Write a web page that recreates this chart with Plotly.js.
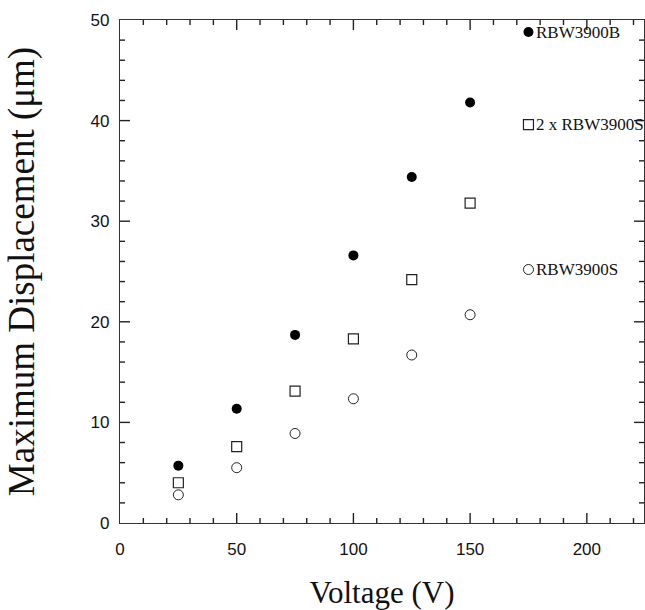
<!DOCTYPE html>
<html>
<head>
<meta charset="utf-8">
<script src="https://cdn.plot.ly/plotly-3.0.1.min.js"></script>
<style>html,body{margin:0;padding:0;background:#fff;}#chart{width:645px;height:610px;}</style>
</head>
<body>
<div id="chart"></div>
<script>
const voltage = [25, 50, 75, 100, 125, 150, 175];
const rbw3900B = [5.7, 11.35, 18.7, 26.6, 34.4, 41.8, 48.8];
const twoXrbw3900S = [4.0, 7.6, 13.1, 18.3, 24.2, 31.8, 39.6];
const rbw3900S = [2.8, 5.5, 8.9, 12.35, 16.7, 20.7, 25.2];
const seriesNames = ["RBW3900B", "2 x RBW3900S", "RBW3900S"];
const xTickVals = [0, 50, 100, 150, 200];
const yTickVals = [0, 10, 20, 30, 40, 50];
const xMinorStep = 10, xMax = 220;
const yMinorStep = 2, yMax = 50;

const W = 645, H = 610;
const M = {l: 120, r: 1, t: 20, b: 87};
const plotW = W - M.l - M.r, plotH = H - M.t - M.b;

const traces = [
  {x: voltage, y: rbw3900B, mode: "markers", name: seriesNames[0],
   marker: {symbol: "circle", size: 10, color: "#000"}},
  {x: voltage, y: twoXrbw3900S, mode: "markers", name: seriesNames[1],
   marker: {symbol: "square-open", size: 10, color: "#222", line: {width: 1.2}}},
  {x: voltage, y: rbw3900S, mode: "markers", name: seriesNames[2],
   marker: {symbol: "circle-open", size: 10, color: "#222", line: {width: 1}}}
];

const lastIdx = voltage.length - 1;
const seriesY = [rbw3900B, twoXrbw3900S, rbw3900S];
const annotations = seriesNames.map((n, i) => ({
  x: voltage[lastIdx], y: seriesY[i][lastIdx], xref: "x", yref: "y",
  text: n, showarrow: false, xanchor: "left", yanchor: "middle", xshift: 6,
  font: {family: "Liberation Serif, Times New Roman, serif", size: 17, color: "#111"}
}));

// inward, mirrored tick marks drawn as shapes on the axes' own scales
const shapes = [];
function xTick(v, len) {
  const f = len / plotH;
  shapes.push({type: "line", xref: "x", x0: v, x1: v, yref: "paper", y0: 0, y1: f, line: {color: "#222", width: 1.4}});
  shapes.push({type: "line", xref: "x", x0: v, x1: v, yref: "paper", y0: 1, y1: 1 - f, line: {color: "#222", width: 1.4}});
}
function yTick(v, len) {
  const f = len / plotW;
  shapes.push({type: "line", yref: "y", y0: v, y1: v, xref: "paper", x0: 0, x1: f, line: {color: "#222", width: 1.4}});
  shapes.push({type: "line", yref: "y", y0: v, y1: v, xref: "paper", x0: 1, x1: 1 - f, line: {color: "#222", width: 1.4}});
}
for (let v = xMinorStep; v <= xMax; v += xMinorStep) {
  xTick(v, xTickVals.includes(v) ? 10 : 5);
}
for (let v = yMinorStep; v < yMax; v += yMinorStep) {
  yTick(v, yTickVals.includes(v) ? 10 : 5);
}

const axisFont = {family: "Liberation Sans, Arial, sans-serif", size: 17, color: "#111"};
const layout = {
  width: W, height: H, margin: M,
  paper_bgcolor: "#fff", plot_bgcolor: "#fff",
  showlegend: false,
  xaxis: {
    showgrid: false, zeroline: false, showline: true, linecolor: "#333", linewidth: 1.2,
    mirror: true, ticks: "", range: [0, 224.5], tickmode: "array", tickvals: xTickVals,
    ticklabelstandoff: 10, tickfont: axisFont,
    title: {text: "Voltage (V)", standoff: 30,
      font: {family: "Liberation Serif, Times New Roman, serif", size: 31, color: "#111"}}
  },
  yaxis: {
    showgrid: false, zeroline: false, showline: true, linecolor: "#333", linewidth: 1.2,
    mirror: true, ticks: "", range: [0, 50], tickmode: "array", tickvals: yTickVals,
    ticklabelstandoff: 6, tickfont: axisFont,
    title: {text: "Maximum Displacement (μm)", standoff: 44,
      font: {family: "Liberation Serif, Times New Roman, serif", size: 37, color: "#111"}}
  },
  shapes: shapes,
  annotations: annotations
};

Plotly.newPlot("chart", traces, layout, {displayModeBar: false});
</script>
</body>
</html>
